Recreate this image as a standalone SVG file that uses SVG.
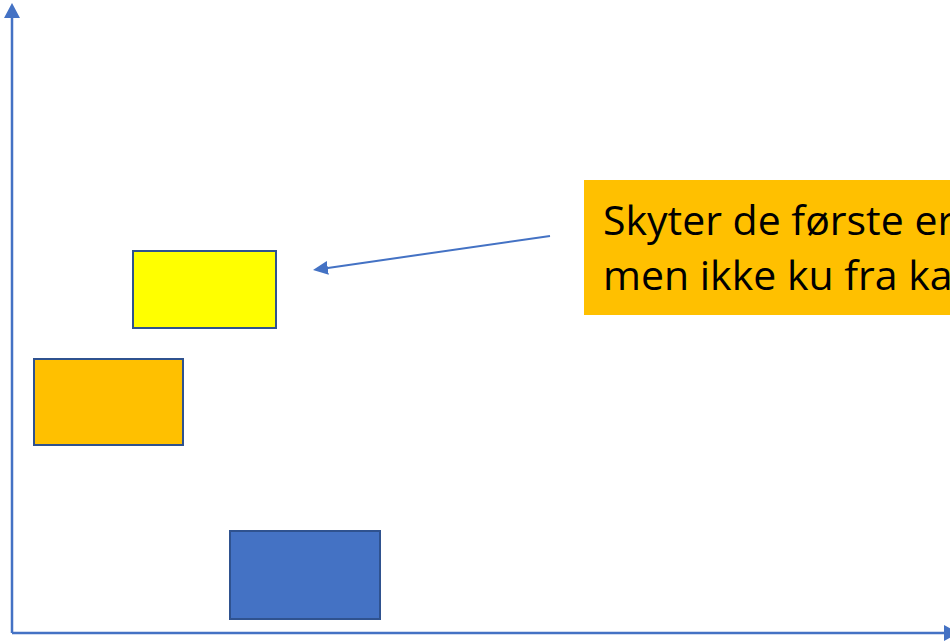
<svg xmlns="http://www.w3.org/2000/svg" width="950" height="642" viewBox="0 0 950 642">
<style>
.box{stroke:#2F528F;stroke-width:2}
.axis{stroke:#4472C4;stroke-width:2.5;fill:none}
.conn{stroke:#4472C4;stroke-width:2;fill:none}
.lbl{font-family:"Open Sans","Noto Sans",sans-serif;font-size:41px;fill:#000}
</style>
<defs>
<marker id="axhead" markerUnits="userSpaceOnUse" viewBox="0 0 15 16" markerWidth="15" markerHeight="16" refX="7" refY="8" orient="auto">
<path d="M0,0 L15,8 L0,16 z" fill="#4472C4"/>
</marker>
<marker id="arhead" markerUnits="userSpaceOnUse" viewBox="0 0 15 14" markerWidth="15" markerHeight="14" refX="7" refY="7" orient="auto">
<path d="M0,0 L15,7 L0,14 z" fill="#4472C4"/>
</marker>
</defs>
<rect width="950" height="642" fill="#fff"/>
<g id="connectors">
<line class="axis" x1="12" y1="633" x2="12" y2="11" marker-end="url(#axhead)"/>
<line class="axis" x1="12" y1="633" x2="951" y2="633" marker-end="url(#axhead)"/>
<line class="conn" x1="550" y1="236" x2="320.9" y2="268.9" marker-end="url(#arhead)"/>
</g>
<g id="yellow"><rect class="box" x="133" y="251" width="143" height="77" fill="#FFFF00"/></g>
<g id="orange"><rect class="box" x="34" y="359" width="149" height="86" fill="#FFC000"/></g>
<g id="blue"><rect class="box" x="230" y="531" width="150" height="88" fill="#4472C4"/></g>
<g id="callout">
<rect x="584" y="180" width="380" height="135" fill="#FFC000"/>
<text class="lbl" x="603" y="235">Skyter de første er</text>
<text class="lbl" x="603" y="290">men ikke ku fra ka</text>
</g>
</svg>
